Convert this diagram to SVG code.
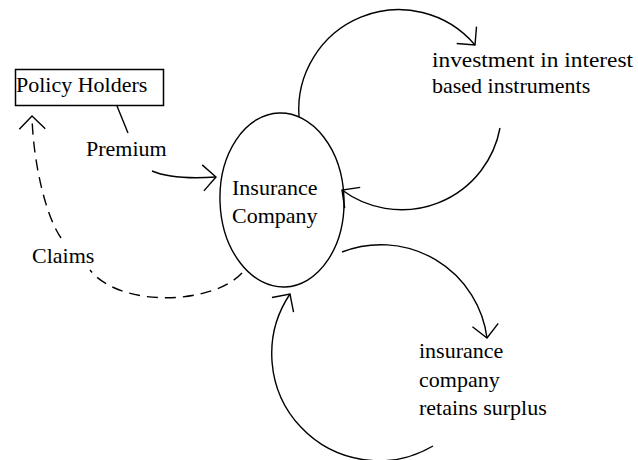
<svg xmlns="http://www.w3.org/2000/svg" width="638" height="460" viewBox="0 0 638 460">
  <style>
    .t { font-family: "Liberation Serif", "Times New Roman", serif; font-size: 22px; fill: #000; }
    .ln { fill: none; stroke: #000; stroke-width: 1.4; }
    .dash { stroke-dasharray: 11 7; }
  </style>
  <defs>
    <marker id="arr" markerUnits="userSpaceOnUse" markerWidth="40" markerHeight="40" viewBox="-20 -20 40 40" refX="0" refY="0" orient="auto">
      <path d="M-13,-13 L0,0 L-13,13" fill="none" stroke="#000" stroke-width="1.4" stroke-dasharray="none"/>
    </marker>
  </defs>
  <rect width="638" height="460" fill="#fff"/>

  <g id="policy-holders">
    <rect x="15.5" y="69.5" width="148" height="36" fill="none" stroke="#000" stroke-width="1.5"/>
    <text class="t" x="16" y="92">Policy Holders</text>
  </g>

  <g id="insurance-company">
    <ellipse cx="282" cy="200" rx="62" ry="87" transform="rotate(-2 282 200)" class="ln"/>
    <text class="t" x="232" y="195">Insurance</text>
    <text class="t" x="232" y="223">Company</text>
  </g>

  <g id="investment">
    <text class="t" x="432" y="67" textLength="201" lengthAdjust="spacingAndGlyphs">investment in interest</text>
    <text class="t" x="432" y="93">based instruments</text>
  </g>

  <g id="surplus">
    <text class="t" x="419" y="358">insurance</text>
    <text class="t" x="419" y="387">company</text>
    <text class="t" x="419" y="415">retains surplus</text>
  </g>

  <g id="connectors">
    <!-- Premium label leader -->
    <line x1="117" y1="106" x2="128" y2="133" class="ln"/>
    <!-- Premium flow -->
    <path d="M152,171 C166,177 186,179 216,177" class="ln" marker-end="url(#arr)"/>
    <!-- investment outflow -->
    <path d="M299,117 A100,100 0 0 1 475,45" class="ln" marker-end="url(#arr)"/>
    <!-- investment return -->
    <path d="M500,128 A100,100 0 0 1 342,190" class="ln" marker-end="url(#arr)"/>
    <!-- surplus outflow -->
    <path d="M342,252 A107,107 0 0 1 487,338" class="ln" marker-end="url(#arr)"/>
    <!-- surplus return -->
    <path d="M433,446 A107,107 0 0 1 290,294" class="ln" marker-end="url(#arr)"/>
    <!-- Claims (dashed) -->
    <path d="M242,273 C212,305 120,308 90,270 M61,238 C45,215 33,160 32,116" class="ln dash" marker-end="url(#arr)"/>
    <text class="t" x="32" y="263">Claims</text>
    <text class="t" x="86" y="156">Premium</text>
  </g>
</svg>
